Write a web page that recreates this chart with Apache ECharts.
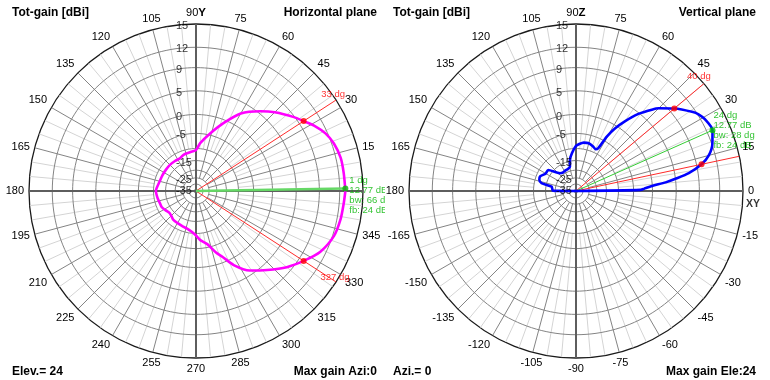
<!DOCTYPE html>
<html><head><meta charset="utf-8">
<script src="https://cdn.jsdelivr.net/npm/echarts@6/dist/echarts.min.js"></script>
<style>
html,body{margin:0;padding:0;background:#fff;}
#wrap{width:770px;height:380px;position:relative;background:#fff;}
.pan{position:absolute;top:0;width:385px;height:380px;overflow:hidden;}
#left{left:0}
#right{left:385px}
</style></head><body>
<div id="wrap"><div id="left" class="pan"></div><div id="right" class="pan"></div></div>
<script>
// ---------------- data ----------------
const ringValues = [12, 9, 5, 0, -5, -10, -15, -20, -25, -30, -35];
const ringLabelValues = [15, 12, 9, 5, 0, -5, -15, -25, -35];
const gainMax = 15;

// Horizontal plane (azimuth, deg) / total gain (dBi)
const horizAzimuth = [0, 7, 13, 19, 24, 29, 33, 37, 45, 51, 60, 68, 76, 85, 90, 100, 109, 116, 125, 135, 145, 155, 165, 176, 180, 190, 199, 205, 212, 220, 227, 232, 241, 250, 256, 263, 269, 275, 282, 288, 292, 297, 304, 312, 320, 327, 334, 342, 349, 355, 360];
const horizGain = [12.77, 12.69, 12.64, 12.29, 11.72, 10.76, 9.77, 8.90, 7.01, 5.46, 2.89, -0.80, -4.43, -8.03, -10.52, -11.30, -11.62, -12.35, -12.30, -12.18, -12.20, -12.10, -11.90, -11.14, -10.90, -11.30, -11.69, -11.78, -12.52, -13.23, -12.77, -12.26, -12.10, -11.78, -11.50, -10.71, -9.52, -7.60, -6.00, -3.00, -1.30, 1.51, 4.18, 6.12, 8.21, 9.77, 11.25, 12.19, 12.49, 12.61, 12.77];

// Vertical plane (elevation, deg) / total gain (dBi)
const vertElevation = [0, 1, 2, 3, 4, 5.5, 7, 9, 12, 15, 19, 24, 29, 32, 34, 40, 45, 47, 51, 55, 58, 60.5, 62.5, 65, 69, 75, 81, 86, 90, 96, 101, 104, 110, 118, 125, 132, 143, 150, 158, 163, 167, 170, 175, 179, 180];
const vertGain = [-40, -3.0, -2.0, -1.0, 0.3, 3.0, 5.0, 7.5, 9.77, 11.12, 12.07, 12.77, 12.53, 12.10, 11.64, 9.77, 7.97, 6.99, 4.83, 1.95, -0.60, -3.57, -7.93, -8.69, -8.14, -7.56, -7.70, -8.34, -9.05, -11.69, -14.43, -17.65, -18.50, -18.73, -19.00, -18.24, -13.02, -13.00, -11.42, -11.60, -12.81, -17.81, -18.30, -18.73, -40];

// annotations
const horizMax = {angle: 1, gain: 12.77, text: ['1 dg', '12.77 dB', 'bw: 66 dg', 'fb: 24 dB']};
const horizHalfPower = [33, 327];
const horizHalfGain = 9.77;
const vertMax = {angle: 24, gain: 12.77, text: ['24 dg', '12.77 dB', 'bw: 28 dg', 'fb: 24 dB']};
const vertHalfPower = [40, 12];
const vertHalfGain = 9.77;

// ---------------- scale (4nec2-like log radius) ----------------
const K = 0.045, ZERO_DB = -37.5;
function rad(dB) {
  const c = Math.exp(K * ZERO_DB);
  const v = (Math.exp(K * dB) - c) / (Math.exp(K * gainMax) - c);
  return Math.max(0, Math.min(1, v));
}

const FONT = '"Liberation Sans", Arial, sans-serif';
const GAP = ['-', '-'];
const SPOKE_DARK_FROM = -25, SPOKE_LIGHT_FROM = -10;

function L(data, color, width, z) {
  return {type: 'line', coordinateSystem: 'polar', data: data, symbol: 'none', silent: true,
    animation: false, connectNulls: false, lineStyle: {color: color, width: width}, z: z};
}
function T(pt, text, label, z) {
  return {type: 'scatter', coordinateSystem: 'polar', data: [pt], symbolSize: 1, silent: true,
    animation: false, itemStyle: {color: 'rgba(0,0,0,0)'}, z: z || 30,
    label: Object.assign({show: true, position: 'inside', formatter: text, fontFamily: FONT}, label)};
}

function buildPanel(el, cfg) {
  const chart = echarts.init(el, null, {renderer: 'canvas'});
  const light = [], dark = [];
  for (let a = 0; a < 360; a += 5) {
    if (a % 90 === 0) continue;
    if (a % 15 === 0) dark.push([rad(SPOKE_DARK_FROM), a], [1, a], GAP);
    else light.push([rad(SPOKE_LIGHT_FROM), a], [1, a], GAP);
  }
  const rings = [];
  ringValues.forEach(v => { const r = rad(v); for (let a = 0; a <= 360; a += 2) rings.push([r, a]); rings.push(GAP); });
  const series = [];
  series.push(L(light, '#d4d4d4', 1, 1));
  series.push(L(rings, '#848484', 1, 2));
  series.push(L(dark, '#848484', 1, 3));
  series.push(L([[1, 0], [0, 0], [1, 180]], '#5e5e5e', 2, 4));
  series.push(L([[1, 90], [0, 90], [1, 270]], '#5e5e5e', 2, 4));
  cfg.half.forEach(a => series.push(L([[0, a], [1, a]], '#ff2a2a', 1, 6)));
  series.push(L([[0, cfg.max.angle], [rad(cfg.max.gain), cfg.max.angle]], cfg.maxLineColor, cfg.maxLineWidth, 6));
  const pat = cfg.ang.map((a, i) => [rad(cfg.gain[i]), a]);
  series.push({type: 'line', coordinateSystem: 'polar', data: pat, symbol: 'none', silent: true, animation: false,
    smooth: 0.25, lineStyle: {color: cfg.color, width: 2.6}, z: 8});
  series.push({type: 'scatter', coordinateSystem: 'polar', data: cfg.half.map(a => [rad(cfg.halfGain), a]),
    symbolSize: 6, itemStyle: {color: '#ff0000'}, silent: true, animation: false, z: 10});
  series.push({type: 'scatter', coordinateSystem: 'polar', data: [[rad(cfg.max.gain), cfg.max.angle]],
    symbolSize: 6, itemStyle: {color: '#00c000'}, silent: true, animation: false, z: 10});
  series.push({type: 'scatter', coordinateSystem: 'polar', symbolSize: 1, itemStyle: {color: 'rgba(0,0,0,0)'},
    silent: true, animation: false, z: 12,
    data: ringLabelValues.map(v => [rad(v), 90, String(v)]),
    label: {show: true, position: 'inside', formatter: p => p.value[2], align: 'left', verticalAlign: 'middle',
      offset: [-20, 2], fontSize: 11, color: '#000', fontFamily: FONT}});
  cfg.halfLabels.forEach(h => series.push(T([1, h.a], h.t, {color: '#ff0000', fontSize: 9.5, align: 'center', verticalAlign: 'middle', offset: h.off})));
  series.push(T([rad(cfg.max.gain), cfg.max.angle], cfg.max.text.join('\n'),
    {color: '#00b400', fontSize: 9.5, lineHeight: 10, align: 'left', verticalAlign: 'top', offset: cfg.maxTextOff}));
  if (cfg.axisName) series.push(T([1, 0], cfg.axisName, {color: '#000', fontSize: 10.5, fontWeight: 'bold', align: 'left', verticalAlign: 'middle', offset: [3, 13]}));

  const txt = (pos, text) => Object.assign({type: 'text', z: 50, style: {text: text, fontSize: 12, fontWeight: 'bold', fontFamily: FONT, fill: '#000'}}, pos);
  chart.setOption({
    animation: false,
    backgroundColor: '#fff',
    polar: {center: cfg.center, radius: 167},
    angleAxis: {type: 'value', min: 0, max: 360, interval: 15, startAngle: 0, clockwise: false,
      axisLine: {show: true, lineStyle: {color: '#1a1a1a', width: 1.3}},
      axisTick: {show: false}, splitLine: {show: false},
      axisLabel: {show: true, margin: 5, color: '#000', fontSize: 11, fontFamily: FONT, formatter: cfg.angleFmt,
        rich: {b: {fontWeight: 'bold', fontSize: 11.5, fontFamily: FONT, color: '#000'}, n: {fontSize: 11, fontFamily: FONT, color: '#000'}}}},
    radiusAxis: {type: 'value', min: 0, max: 1, axisLine: {show: false}, axisTick: {show: false},
      axisLabel: {show: false}, splitLine: {show: false}},
    graphic: [
      txt({left: cfg.tl, top: 7}, 'Tot-gain [dBi]'),
      txt({right: cfg.tr, top: 7}, cfg.plane),
      txt({left: cfg.tl, top: 366}, cfg.bl),
      txt({right: cfg.tr, top: 366}, cfg.br)
    ],
    series: series
  });
}

buildPanel(document.getElementById('left'), {
  center: [196, 191], ang: horizAzimuth, gain: horizGain, color: '#ff00ff',
  half: horizHalfPower, halfGain: horizHalfGain, max: horizMax,
  maxLineColor: '#66d866', maxLineWidth: 2.5, maxTextOff: [4, -13],
  halfLabels: [{a: 33, t: '33 dg', off: [-3, -6]}, {a: 327, t: '327 dg', off: [-1, -5]}],
  angleFmt: v => (v === 0 || v === 360) ? '' : (v === 90 ? '{n|90}{b|Y}' : String(v)),
  plane: 'Horizontal plane', bl: 'Elev.= 24', br: 'Max gain Azi:0', tl: 12, tr: 8
});
buildPanel(document.getElementById('right'), {
  center: [191, 191], ang: vertElevation, gain: vertGain, color: '#0000ff',
  half: vertHalfPower, halfGain: vertHalfGain, max: vertMax,
  maxLineColor: '#33cc33', maxLineWidth: 1, maxTextOff: [1, -20],
  halfLabels: [{a: 40, t: '40 dg', off: [-5, -7]}],
  axisName: 'XY',
  angleFmt: v => v === 360 ? '' : (v === 90 ? '{n|90}{b|Z}' : String(v > 180 ? v - 360 : v)),
  plane: 'Vertical plane', bl: 'Azi.= 0', br: 'Max gain Ele:24', tl: 8, tr: 14
});
</script>
</body></html>
